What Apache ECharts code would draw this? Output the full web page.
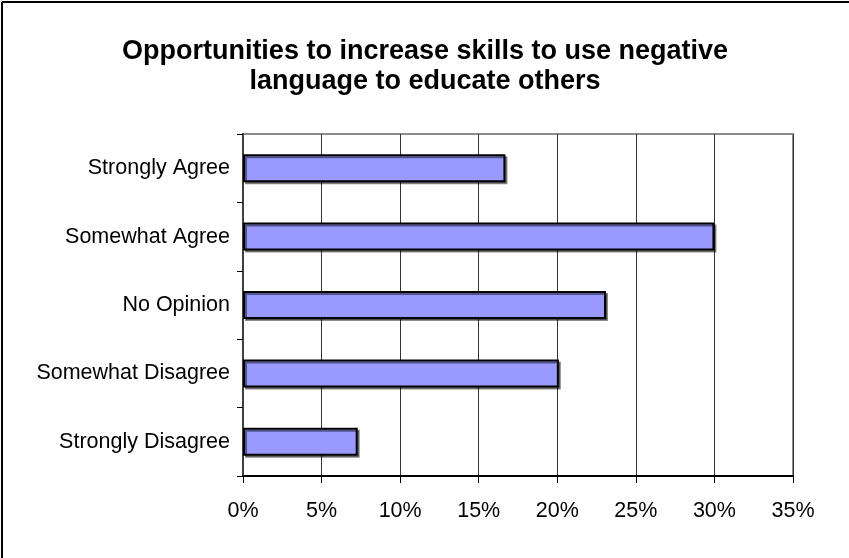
<!DOCTYPE html>
<html>
<head>
<meta charset="utf-8">
<script src="https://cdn.jsdelivr.net/npm/echarts@6/dist/echarts.min.js"></script>
<style>
html,body{margin:0;padding:0;background:#fff;}
#chart{width:849px;height:558px;}
</style>
</head>
<body>
<div id="chart"></div>
<script>
const titleText = "Opportunities to increase skills to use negative\nlanguage to educate others";
const categories = ["Strongly Agree", "Somewhat Agree", "No Opinion", "Somewhat Disagree", "Strongly Disagree"];
const values = [16.7, 30.0, 23.1, 20.1, 7.3];
const xTicks = { min: 0, max: 35, interval: 5 };

const chart = echarts.init(document.getElementById('chart'), null, {renderer: 'canvas'});
const font = "'Liberation Sans', Arial, sans-serif";
chart.setOption({
  animation: false,
  backgroundColor: '#fff',
  graphic: [
    { type: 'line', shape: { x1: 2, y1: 2, x2: 849, y2: 2 }, style: { stroke: '#000', lineWidth: 2 }, silent: true },
    { type: 'line', shape: { x1: 2, y1: 2, x2: 2, y2: 558 }, style: { stroke: '#000', lineWidth: 2 }, silent: true },
    { type: 'text', x: 425, y: 37, silent: true,
      style: { text: titleText, textAlign: 'center', textVerticalAlign: 'top',
               fontFamily: font, fontSize: 27, fontWeight: 'bold', lineHeight: 30, fill: '#000' } }
  ],
  grid: { left: 243, top: 134, right: 56, bottom: 82, show: true, borderColor: '#8c8c8c', borderWidth: 2, backgroundColor: 'transparent' },
  xAxis: {
    type: 'value',
    min: xTicks.min, max: xTicks.max, interval: xTicks.interval,
    axisLine: { show: true, onZero: false, lineStyle: { color: '#000', width: 2 } },
    axisTick: { show: true, length: 7, lineStyle: { color: '#000', width: 1 } },
    axisLabel: { formatter: '{value}%', fontFamily: font, fontSize: 21.5, color: '#000', margin: 24 },
    splitLine: { show: true, lineStyle: { color: '#333', width: 1 } }
  },
  yAxis: {
    type: 'category',
    data: categories,
    inverse: true,
    axisLine: { show: true, lineStyle: { color: '#404040', width: 2 } },
    axisTick: { show: true, length: 6, lineStyle: { color: '#000', width: 1 } },
    axisLabel: { fontFamily: font, fontSize: 21.5, color: '#000', margin: 13 },
    splitLine: { show: false }
  },
  series: [{
    type: 'bar',
    data: values,
    barWidth: '41%',
    itemStyle: {
      color: '#9999FF',
      borderColor: '#000',
      borderWidth: 2,
      shadowColor: 'rgba(0,0,0,0.45)',
      shadowOffsetX: 2,
      shadowOffsetY: 2,
      shadowBlur: 0
    }
  }]
});
</script>
</body>
</html>
